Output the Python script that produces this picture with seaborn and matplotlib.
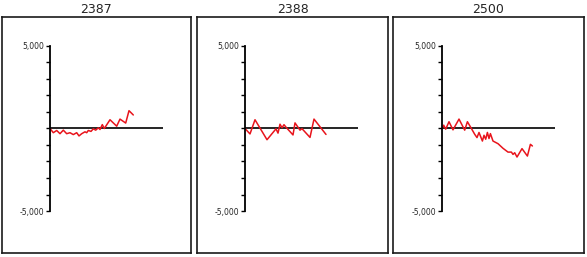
import matplotlib
matplotlib.use("Agg")
import matplotlib.pyplot as plt
import seaborn as sns
import pandas as pd

sns.set_style("white")
plt.rcParams['font.family'] = ['DejaVu Sans']

titles = ["2387", "2388", "2500"]

x_2387 = [0, 3.3, 6.7, 10, 13.3, 16.7, 20, 23.3, 26.7, 29, 31.7, 35, 36.7, 38.3,
          41, 43.3, 45.7, 48.3, 50, 52.3, 54.3, 60, 66.7, 70, 75.7, 79, 83.3]
y_2387 = [0, -255, -120, -315, -100, -315, -255, -370, -255, -450, -315, -200, -255, -120,
          -175, -20, -100, 40, -60, 235, 0, 530, 140, 570, 330, 1080, 820]

x_2388 = [0, 5, 10, 22, 31, 33, 35, 37, 39, 41, 48, 50, 55, 57, 65, 69, 81]
y_2388 = [0, -330, 530, -680, -20, -280, 260, 50, 230, 80, -390, 340, -100, -10, -540, 570, -360]

x_2500 = [0, 1.7, 3.7, 7, 11, 17, 22.7, 25.4, 29.4, 32.7, 35, 37, 40.4, 42, 43.7, 45.4,
          47, 48.4, 51, 56, 61, 66, 69.4, 71, 72.7, 75, 80, 85.4, 88.4, 90.4]
y_2500 = [0, 200, -40, 410, -80, 570, -100, 410, 0, -350, -550, -240, -760, -410, -650, -240,
          -610, -310, -760, -920, -1200, -1430, -1430, -1570, -1470, -1730, -1220, -1670, -960, -1060]

xs = [x_2387, x_2388, x_2500]
ys = [y_2387, y_2388, y_2500]

W, H = 587, 257
fig = plt.figure(figsize=(W / 100, H / 100), dpi=100)

frames = [(2, 191), (197, 388), (393, 584)]
axis_left = [50, 245, 442]
frame_top, frame_bottom = 17, 253
plot_top, plot_bottom = 46, 211
plot_w = 113

for i in range(3):
    fl, fr = frames[i]
    fax = fig.add_axes([fl / W, 1 - frame_bottom / H, (fr - fl) / W, (frame_bottom - frame_top) / H])
    fax.set_xticks([])
    fax.set_yticks([])
    fax.set_facecolor("white")
    for s in fax.spines.values():
        s.set_visible(True)
        s.set_color("#1a1a1a")
        s.set_linewidth(1.2)
    fax.set_title(titles[i], fontsize=9, pad=3)

    ax = fig.add_axes([axis_left[i] / W, 1 - plot_bottom / H, plot_w / W, (plot_bottom - plot_top) / H])
    ax.patch.set_alpha(0)
    df = pd.DataFrame({"x": xs[i], "y": ys[i]})
    ax.axhline(0, color="black", lw=1.2, zorder=1)
    sns.lineplot(data=df, x="x", y="y", ax=ax, color="#e8141c", lw=1.1, estimator=None, sort=False, zorder=2)
    ax.set_xlim(0, plot_w)
    ax.set_ylim(-5000, 5000)
    ax.set_xlabel("")
    ax.set_ylabel("")
    ax.set_xticks([])
    ticks = list(range(-5000, 5001, 1000))
    ax.set_yticks(ticks)
    ax.set_yticklabels(["-5,000" if t == -5000 else ("5,000" if t == 5000 else "") for t in ticks])
    ax.tick_params(axis="y", left=True, length=3, width=1, color="black", labelsize=5.5, pad=1)
    for k in ["top", "right", "bottom"]:
        ax.spines[k].set_visible(False)
    ax.spines["left"].set_color("black")
    ax.spines["left"].set_linewidth(1.3)

fig.savefig("out.png", dpi=100)
